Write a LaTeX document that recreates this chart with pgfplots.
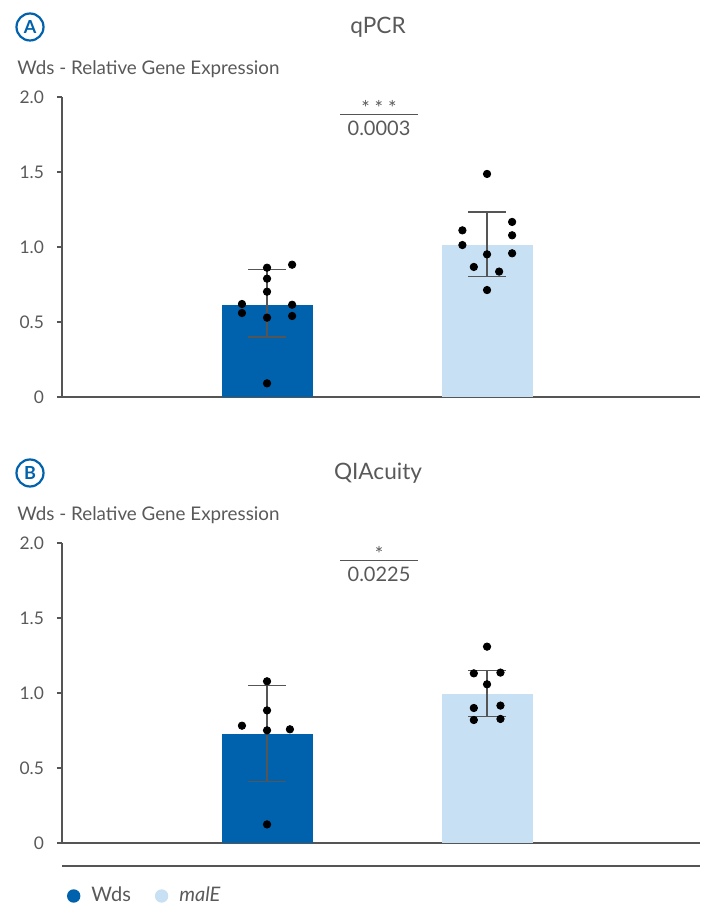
\documentclass[border=0pt]{standalone}
\usepackage{fontspec}
\setmainfont{Lato}
\usepackage{pgfplots}
\pgfplotsset{compat=1.18}

\definecolor{qdark}{RGB}{0,97,172}
\definecolor{qlight}{RGB}{200,224,244}
\definecolor{txtgray}{RGB}{89,89,89}
\definecolor{errgray}{RGB}{85,85,85}

\tikzset{qsig/.style={text=txtgray, font=\fontsize{10}{12}\selectfont}}

\pgfplotsset{
  qpanel/.style={
    scale only axis, width=319pt, height=150pt,
    anchor=south west, clip=false,
    xmin=-0.932, xmax=1.968, ymin=0, ymax=2,
    axis x line*=bottom, axis y line*=left,
    axis line style={draw=errgray, line width=0.6pt},
    xtick=\empty,
    ytick={0,0.5,1,1.5,2}, yticklabels={0,0.5,1.0,1.5,2.0},
    tick align=outside, major tick length=2.5pt,
    tick style={draw=errgray, line width=0.6pt},
    /pgf/number format/assume math mode=true,
    yticklabel style={font=\fontsize{8.7}{10}\selectfont, text=txtgray, xshift=-3pt},
  },
  qbar/.style={ybar, bar width=45.5pt, bar shift=0pt, draw=none, fill=#1,
    error bars/y dir=both, error bars/y explicit,
    error bars/error bar style={draw=errgray, line width=0.6pt},
    error bars/error mark options={rotate=90, draw=errgray, line width=0.6pt, mark size=9.5pt}},
  qdots/.style={only marks, mark=*, mark size=1.85pt, black},
}

\begin{document}
\begin{tikzpicture}[x=0.5pt, y=0.5pt]
\path (0,0) rectangle (705,906);

% panel A
\node[circle, draw=qdark, line width=1.1pt, minimum size=13.5pt, inner sep=0pt,
  text=qdark, font=\bfseries\fontsize{9}{10}\selectfont] at (30,879) {A};
\node[text=txtgray, font=\fontsize{11.3}{13}\selectfont] at (378,879) {qPCR};
\node[anchor=west, inner sep=0pt, text=txtgray, font=\fontsize{9.4}{11}\selectfont] at (17,837) {Wds - Relative Gene Expression};

\begin{axis}[qpanel, at={(31pt,254.5pt)}]
  \addplot[qbar=qdark] coordinates {(0,0.613) += (0,0.236) -= (0,0.213)};
  \addplot[qbar=qlight] coordinates {(1,1.013) += (0,0.220) -= (0,0.209)};
  \addplot[qdots] coordinates {
    (0,0.862) (0.114,0.882) (0,0.789) (0,0.702) (-0.114,0.620)
    (-0.114,0.560) (0.114,0.615) (0.114,0.540) (0,0.529) (0,0.091)};
  \addplot[qdots] coordinates {
    (1,1.487) (0.888,1.111) (0.888,1.013) (1.114,1.167) (1.114,1.078)
    (1.114,0.958) (1,0.951) (0.940,0.867) (1.055,0.836) (1,0.713)};
  \draw[errgray, line width=0.6pt] (axis cs:0.332,1.884) -- (axis cs:0.686,1.884);
  \node[qsig] at (axis cs:0.509,1.93) {*\hspace{2.5pt}*\hspace{2.5pt}*};
  \node[qsig] at (axis cs:0.509,1.788) {0.0003};
\end{axis}

% panel B
\node[circle, draw=qdark, line width=1.1pt, minimum size=13.5pt, inner sep=0pt,
  text=qdark, font=\bfseries\fontsize{9}{10}\selectfont] at (30,433) {B};
\node[text=txtgray, font=\fontsize{11.3}{13}\selectfont] at (378,433) {QIAcuity};
\node[anchor=west, inner sep=0pt, text=txtgray, font=\fontsize{9.4}{11}\selectfont] at (17,391) {Wds - Relative Gene Expression};

\begin{axis}[qpanel, at={(31pt,31.5pt)},
  legend columns=-1,
  legend style={at={(axis description cs:0,0)}, anchor=west, xshift=2.3pt, yshift=-26.5pt,
    draw=none, fill=none, inner sep=0pt, nodes={inner sep=0pt},
    font=\fontsize{10}{12}\selectfont, text=txtgray,
    /tikz/every odd column/.append style={column sep=5.5pt},
    /tikz/every even column/.append style={column sep=12pt}},
  ]
  \addplot[forget plot, qbar=qdark] coordinates {(0,0.727) += (0,0.324) -= (0,0.316)};
  \addplot[forget plot, qbar=qlight] coordinates {(1,0.996) += (0,0.155) -= (0,0.154)};
  \addplot[forget plot, qdots] coordinates {
    (0,1.078) (0,0.884) (-0.114,0.782) (0,0.751) (0.104,0.758) (0,0.124)};
  \addplot[forget plot, qdots] coordinates {
    (1,1.309) (0.940,1.131) (1.061,1.136) (1,1.058) (0.940,0.900)
    (1.061,0.916) (0.940,0.820) (1.061,0.827)};
  \addlegendimage{draw=none, fill=qdark, legend image code/.code={\fill[qdark] (3.35pt,0pt) circle (3.35pt);}}
  \addlegendentry{Wds}
  \addlegendimage{draw=none, fill=qlight, legend image code/.code={\fill[qlight] (3.35pt,0pt) circle (3.35pt);}}
  \addlegendentry{\itshape malE}
  \draw[errgray, line width=0.6pt] (axis cs:0.332,1.884) -- (axis cs:0.686,1.884);
  \node[qsig] at (axis cs:0.509,1.93) {*};
  \node[qsig] at (axis cs:0.509,1.788) {0.0225};
\end{axis}

\draw[errgray, line width=0.6pt] (62,40) -- (700,40);
\end{tikzpicture}
\end{document}
